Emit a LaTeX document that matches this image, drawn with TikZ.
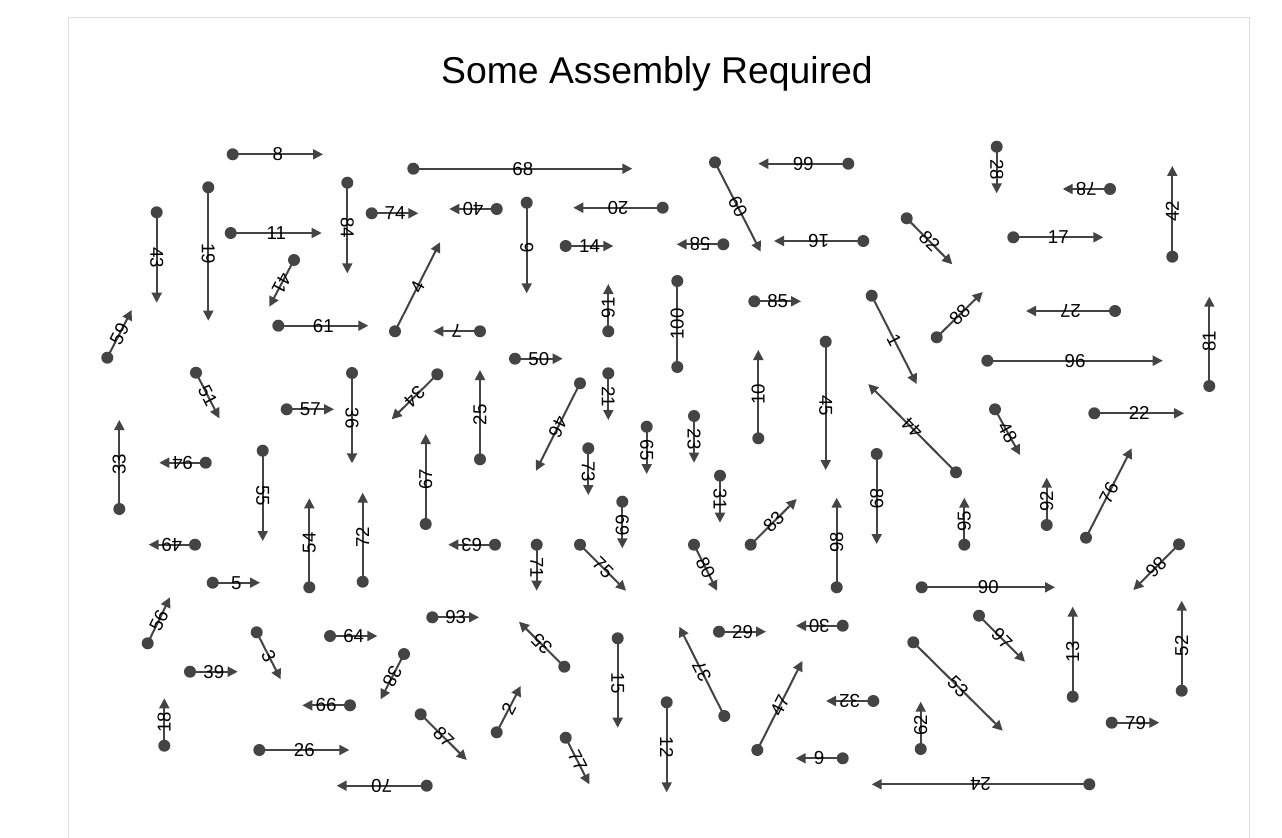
\documentclass[tikz,border=0pt]{standalone}
\usepackage{fontspec}
\setmainfont{Liberation Sans}
\usetikzlibrary{arrows.meta}
\definecolor{linec}{HTML}{444444}
\definecolor{panelc}{HTML}{DDDDDD}
\tikzset{
 dotn/.style={circle, fill=linec, draw=none, minimum size=9pt, inner sep=0pt},
 plainln/.style={draw=linec, line width=1.5pt},
 arr/.style={plainln, -{Triangle[length=7.5pt,width=7.5pt]}},
 lab/.style={sloped, allow upside down, font=\fontsize{14}{16}\selectfont, text=black, inner sep=0pt, anchor=center},
 ttl/.style={font=\fontsize{28}{32}\selectfont, text=black},
}
\newcommand\arw[3]{\node[dotn] (s#1) at (#2) {}; \coordinate (e#1) at (#3); \draw[arr] (s#1.center) -- node[lab]{#1} (e#1);}
\begin{document}
\begin{tikzpicture}[x=0.75pt,y=-0.75pt]
\useasboundingbox (0,0) rectangle (1282,838);
\fill[white] (0,0) rectangle (1282,838);
\draw[panelc, line width=0.75pt] (68,18) rectangle (1249.5,850);
\node[ttl] (title) at (657,74) {Some Assembly Required};
\arw{8}{232.7,154.3}{323,154.3}
\arw{68}{413.3,168.7}{632.3,168.7}
\arw{66}{848.3,163.7}{758.3,163.7}
\arw{28}{996.7,146.7}{996.7,193.3}
\arw{78}{1110,189}{1062.7,189}
\arw{42}{1172.3,256.7}{1172.3,166}
\arw{43}{156.7,212.3}{156.7,302.7}
\arw{19}{208.3,187.3}{208.3,320.7}
\arw{11}{230.7,233}{321.7,233}
\arw{84}{347.3,182.7}{347.3,273.3}
\arw{74}{371.7,213.3}{418.3,213.3}
\arw{40}{496.7,209}{449.3,209}
\arw{9}{526.7,202.7}{526.7,293.3}
\arw{20}{662.7,207.7}{573.3,207.7}
\arw{14}{565.7,246}{613.3,246}
\arw{58}{723.3,244.3}{676.7,244.3}
\arw{60}{715,162.3}{760.7,251.7}
\arw{16}{863.3,241}{774,241}
\arw{82}{906.7,218.3}{952.3,264.3}
\arw{17}{1013.3,237.3}{1103.3,237.3}
\arw{41}{294,260}{269.3,306.7}
\arw{4}{395,331.3}{440,242.3}
\arw{91}{608.3,331.3}{608.3,284}
\node[dotn] (s100) at (677.3,367) {};
\node[dotn] (e100) at (677.3,281) {};
\draw[plainln] (s100.center) -- node[lab]{100} (e100.center);
\arw{85}{754.3,301.3}{801,301.3}
\arw{1}{871.7,295.7}{916.7,384}
\arw{88}{936.7,337.3}{982.7,292}
\arw{27}{1115,311}{1026,311}
\arw{81}{1209.3,386}{1209.3,296.7}
\arw{59}{107.3,357.7}{131.7,310}
\arw{61}{278.3,325.7}{368.3,325.7}
\arw{7}{480,331.3}{433.3,331.3}
\arw{50}{515,358.7}{562.7,358.7}
\arw{96}{987.3,360.7}{1162.7,360.7}
\arw{51}{196,372.7}{219.3,418.3}
\arw{57}{286.7,409.3}{334,409.3}
\arw{36}{352,373}{352,463.3}
\arw{34}{437.3,374.3}{391.7,419.3}
\arw{25}{480,459.3}{480,370}
\arw{46}{580,383.3}{536,470.7}
\arw{21}{608.3,373.3}{608.3,420}
\arw{10}{758.3,438.3}{758.3,350}
\arw{45}{825.7,341.7}{825.7,470}
\arw{44}{956,472.3}{868.3,384}
\arw{48}{995,409.3}{1020,455}
\arw{22}{1094.3,413.3}{1184,413.3}
\arw{33}{119.3,509}{119.3,420}
\arw{94}{205.7,462.7}{159.3,462.7}
\arw{55}{262.7,450.7}{262.7,541}
\arw{67}{425.7,524}{425.7,434}
\arw{73}{588.3,448.3}{588.3,495}
\arw{65}{646.7,426.7}{646.7,474}
\arw{23}{694,416}{694,462.7}
\arw{31}{720,475.7}{720,522.7}
\arw{69}{622.3,501.7}{622.3,548.3}
\arw{83}{750.7,544.7}{796.7,499}
\arw{89}{876.7,454}{876.7,544}
\arw{95}{964.3,544.7}{964.3,497.7}
\arw{92}{1046.7,525}{1046.7,477.7}
\arw{76}{1086,537.7}{1131.7,448.3}
\arw{49}{195,544.7}{148.7,544.7}
\arw{54}{309.3,587.3}{309.3,498.3}
\arw{72}{362.7,581.7}{362.7,492.7}
\arw{63}{495,544.7}{448.3,544.7}
\arw{71}{536.7,544.7}{536.7,590.7}
\arw{75}{580,544.7}{626,590.7}
\arw{80}{694,544.7}{717,590.7}
\arw{98}{836.7,587.3}{836.7,497.7}
\arw{86}{1179,544.3}{1133.3,590}
\arw{5}{212.7,582.7}{260,582.7}
\arw{90}{921.7,587.3}{1055,587.3}
\arw{56}{147.7,643.3}{170,597.3}
\arw{64}{330,636}{377.3,636}
\arw{93}{432.3,617.3}{479,617.3}
\arw{35}{564.3,666.7}{519,621.7}
\arw{29}{719,631.7}{766,631.7}
\arw{30}{842.7,625.7}{796,625.7}
\arw{97}{979,615.7}{1025,661.7}
\arw{13}{1072.7,696.7}{1072.7,606.7}
\arw{52}{1181.7,690.7}{1181.7,600.7}
\arw{39}{190,671.7}{237.7,671.7}
\arw{3}{256.7,632.3}{280.7,679.3}
\arw{38}{404,654}{380.7,699.3}
\arw{15}{617.7,638.3}{617.7,727.7}
\arw{37}{724.3,716}{679.3,626.7}
\arw{47}{757.3,750}{802.3,661}
\arw{53}{913.3,642.3}{1002.7,730.7}
\arw{18}{164.3,745.7}{164.3,698.3}
\arw{99}{350,705.3}{302.3,705.3}
\arw{2}{496.7,732.3}{520.7,686}
\arw{87}{420.7,714.3}{466.7,760}
\arw{32}{873.3,701}{826,701}
\arw{62}{920.7,749}{920.7,701.7}
\arw{79}{1111.7,722.7}{1159.3,722.7}
\arw{26}{259.3,750}{349.3,750}
\arw{77}{565.7,737.7}{589.3,784.3}
\arw{12}{666.7,702.3}{666.7,792.3}
\arw{6}{842.7,758.3}{795.7,758.3}
\arw{24}{1089.3,784.3}{871.7,784.3}
\arw{70}{426.7,785.7}{336.7,785.7}
\end{tikzpicture}
\end{document}
